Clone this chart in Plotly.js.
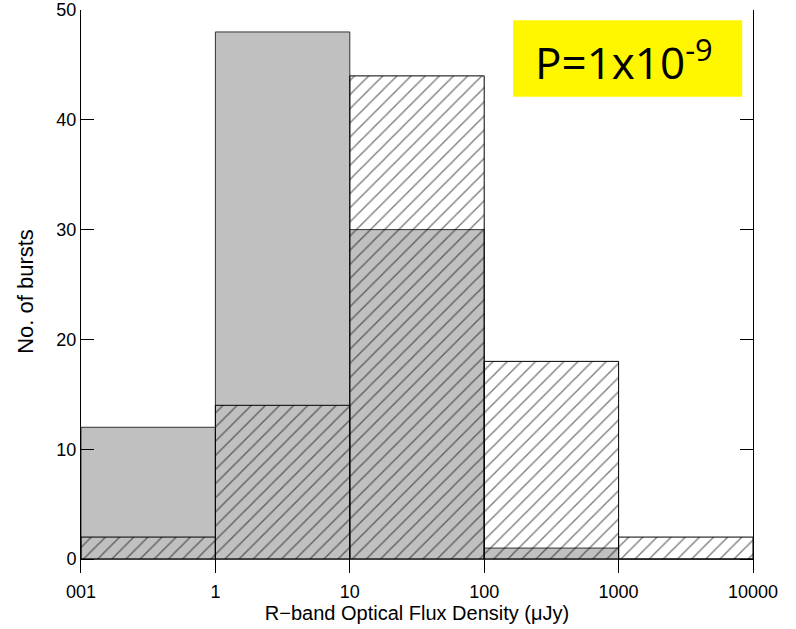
<!DOCTYPE html>
<html>
<head>
<meta charset="utf-8">
<script src="https://cdn.plot.ly/plotly-3.0.1.min.js"></script>
<style>html,body{margin:0;padding:0;background:#fff;}</style>
</head>
<body>
<div id="chart" style="width:796px;height:629px;"></div>
<script>
// Bin edges (µJy), one decade per bin
const binEdges = [0.1, 1, 10, 100, 1000, 10000];
// Filled grey histogram
const greyCounts = [12, 48, 30, 1, 0];
// Hatched histogram
const hatchCounts = [2, 14, 44, 18, 2];
// Axis ticks
const xTickVals = [0.1, 1, 10, 100, 1000, 10000];
const xTickText = ['001', '1', '10', '100', '1000', '10000'];
const yTickVals = [0, 10, 20, 30, 40, 50];

const binStarts = binEdges.slice(0, -1);
const binWidths = binStarts.map((v, i) => binEdges[i + 1] - v);

const font = 'Liberation Sans, Arial, Helvetica, sans-serif';

const traces = [
  {
    type: 'bar', x: binStarts, y: greyCounts, width: binWidths, offset: 0,
    marker: {color: '#c0c0c0', line: {color: '#333333', width: 1}},
    hoverinfo: 'skip', showlegend: false
  },
  {
    type: 'bar', x: binStarts, y: hatchCounts, width: binWidths, offset: 0,
    marker: {
      color: 'rgba(0,0,0,0)',
      line: {color: '#000000', width: 1},
      pattern: {shape: '/', fgcolor: '#000000', bgcolor: 'rgba(0,0,0,0)', size: 10, solidity: 0.14, fillmode: 'overlay'}
    },
    hoverinfo: 'skip', showlegend: false
  }
];

const layout = {
  width: 796, height: 629,
  margin: {l: 81, r: 43, t: 10, b: 56},
  paper_bgcolor: '#ffffff', plot_bgcolor: '#ffffff',
  barmode: 'overlay', bargap: 0,
  font: {family: font, color: '#000', size: 18},
  xaxis: {
    type: 'log', range: [-1, 4],
    tickmode: 'array', tickvals: xTickVals, ticktext: xTickText,
    ticks: 'inside', ticklen: 14, tickcolor: '#000', tickwidth: 1,
    showline: false, showgrid: false, zeroline: false,
    tickfont: {family: font, size: 18, color: '#000'},
    ticklabelstandoff: 6,
    title: {text: 'R\u2212band Optical Flux Density (\u03bcJy)', font: {family: font, size: 20, color: '#000'}, standoff: 2}
  },
  xaxis2: {
    type: 'log', range: [-1, 4], overlaying: 'x', side: 'top', anchor: 'y',
    tickmode: 'array', tickvals: xTickVals,
    ticks: 'inside', ticklen: 9, tickcolor: '#000',
    showticklabels: false, showline: true, linecolor: '#000', linewidth: 1,
    showgrid: false, zeroline: false
  },
  yaxis: {
    range: [-1.27, 50],
    tickmode: 'array', tickvals: yTickVals,
    ticks: 'inside', ticklen: 13, tickcolor: '#000', tickwidth: 1,
    showline: true, linecolor: '#000', linewidth: 1, mirror: 'ticks',
    showgrid: false, zeroline: false,
    tickfont: {family: font, size: 18, color: '#000'},
    title: {text: 'No. of bursts', font: {family: font, size: 22, color: '#000'}, standoff: 16}
  },
  shapes: [
    {type: 'rect', xref: 'paper', yref: 'paper', x0: 0.643, x1: 0.984, y0: 0.846, y1: 0.982,
     fillcolor: '#fff700', line: {width: 0}, layer: 'above'}
  ],
  annotations: [
    {xref: 'paper', yref: 'paper', x: 0.673, y: 0.911, xanchor: 'left', yanchor: 'middle',
     text: 'P=1x10<sup>-9</sup>', showarrow: false,
     font: {family: 'Open Sans, Noto Sans, sans-serif', size: 44, color: '#000'}}
  ]
};

Plotly.newPlot('chart', traces, layout, {displayModeBar: false, staticPlot: true});
</script>
</body>
</html>
